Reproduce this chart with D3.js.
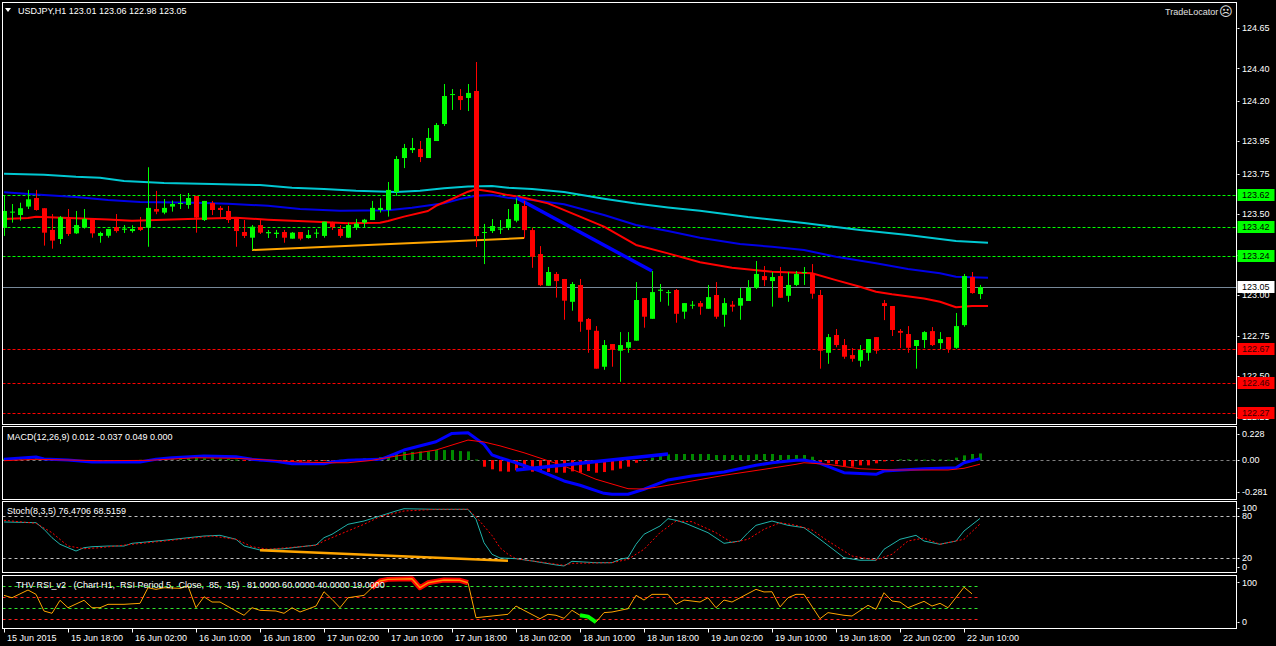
<!DOCTYPE html>
<html>
<head>
<meta charset="utf-8">
<script src="https://cdn.jsdelivr.net/npm/d3@7"></script>
<style>
  html, body { margin: 0; padding: 0; background: #000; }
  svg { display: block; }
  text { font-family: "Liberation Sans", Arial, sans-serif; font-size: 9px; fill: #fff; }
</style>
</head>
<body>
<div id="chart"></div>
<script>
// ---- price bars (USDJPY H1), one entry per bar ----
const candleOpen = [123.415,123.510,123.495,123.547,123.600,123.537,123.403,123.347,123.471,123.382,123.417,123.475,123.366,123.367,123.421,123.404,123.396,123.421,123.417,123.532,
  123.510,123.547,123.565,123.557,123.613,123.464,123.569,123.539,123.520,123.481,123.390,123.355,123.433,123.382,123.378,123.390,123.349,123.390,123.353,123.380,
  123.366,123.448,123.409,123.355,123.417,123.448,123.464,123.526,123.526,123.637,123.847,123.896,123.903,123.847,123.952,124.057,124.236,124.230,124.218,124.261,
  123.384,123.396,123.407,123.415,123.460,123.551,123.402,123.254,123.058,123.131,123.100,122.959,123.063,122.853,122.780,122.558,122.698,122.657,122.675,122.719,
  122.982,122.854,123.027,123.015,123.032,122.898,122.935,122.951,122.916,123.001,122.879,122.941,122.935,122.964,123.046,123.118,123.087,123.118,122.996,123.063,
  123.137,123.131,123.001,122.644,122.754,122.692,122.630,122.595,122.644,122.741,122.951,122.933,122.779,122.760,122.686,122.723,122.778,122.704,122.741,122.675,
  122.815,123.112,123.007];
const candleHigh = [123.613,123.563,123.571,123.650,123.650,123.537,123.501,123.489,123.532,123.520,123.532,123.475,123.392,123.409,123.501,123.433,123.432,123.483,123.790,123.644,
  123.594,123.584,123.625,123.631,123.613,123.582,123.582,123.551,123.551,123.481,123.464,123.433,123.464,123.403,123.403,123.403,123.390,123.390,123.403,123.409,
  123.454,123.454,123.433,123.448,123.471,123.471,123.582,123.598,123.699,123.859,123.934,123.971,123.952,124.032,124.063,124.304,124.273,124.273,124.304,124.440,
  123.440,123.470,123.464,123.532,123.598,123.582,123.417,123.303,123.174,123.143,123.100,123.081,123.100,122.859,122.809,122.723,122.698,122.772,122.772,123.081,
  122.982,123.149,123.069,123.032,123.038,122.951,122.964,122.964,123.063,123.081,122.982,122.964,123.044,123.093,123.211,123.180,123.143,123.174,123.143,123.149,
  123.174,123.192,123.032,122.760,122.791,122.729,122.673,122.692,122.729,122.741,122.970,122.933,122.791,122.809,122.723,122.778,122.803,122.772,122.741,122.890,
  123.131,123.143,123.063];
const candleLow = [123.366,123.448,123.460,123.532,123.522,123.306,123.287,123.316,123.366,123.378,123.411,123.355,123.324,123.355,123.386,123.384,123.386,123.396,123.299,123.500,
  123.500,123.516,123.532,123.534,123.386,123.458,123.495,123.481,123.446,123.299,123.353,123.279,123.378,123.353,123.353,123.324,123.349,123.339,123.349,123.353,
  123.355,123.403,123.355,123.353,123.403,123.417,123.464,123.510,123.485,123.614,123.785,123.878,123.822,123.847,123.952,124.045,124.144,124.144,124.137,123.297,
  123.192,123.384,123.378,123.402,123.450,123.351,123.169,123.056,123.058,122.985,122.848,122.904,122.774,122.644,122.546,122.539,122.558,122.465,122.644,122.719,
  122.799,122.854,122.959,122.935,122.830,122.854,122.916,122.879,122.916,122.854,122.805,122.898,122.848,122.964,123.038,123.056,122.929,122.984,122.959,123.056,
  123.063,122.978,122.546,122.576,122.678,122.607,122.589,122.558,122.595,122.638,122.846,122.748,122.673,122.644,122.546,122.673,122.686,122.667,122.644,122.669,
  122.805,123.009,122.976];
const candleClose = [123.520,123.516,123.537,123.592,123.526,123.386,123.337,123.481,123.378,123.433,123.471,123.382,123.384,123.409,123.396,123.411,123.409,123.403,123.539,123.516,
  123.539,123.563,123.569,123.600,123.479,123.582,123.526,123.526,123.464,123.396,123.366,123.423,123.386,123.390,123.386,123.355,123.386,123.349,123.372,123.386,
  123.454,123.420,123.366,123.433,123.442,123.466,123.539,123.539,123.650,123.841,123.909,123.909,123.853,123.971,124.051,124.230,124.242,124.205,124.249,123.365,
  123.390,123.427,123.411,123.470,123.563,123.402,123.237,123.062,123.143,123.087,122.966,123.069,122.836,122.786,122.546,122.692,122.663,122.692,122.710,122.970,
  122.867,123.019,123.034,123.019,122.885,122.951,122.941,122.929,122.988,122.867,122.951,122.929,122.982,123.046,123.131,123.093,123.112,122.984,123.063,123.131,
  123.143,123.009,122.657,122.741,122.692,122.620,122.607,122.661,122.729,122.657,122.933,122.785,122.768,122.675,122.723,122.772,122.692,122.729,122.667,122.809,
  123.118,123.013,123.050];

// moving averages, sampled as [bar, price]
const maSlow = [[0,123.750],[5,123.744],[9,123.731],[12,123.725],[15,123.705],[20,123.693],[26,123.686],[32,123.680],[36,123.664],[40,123.656],
  [44,123.645],[49,123.637],[52,123.645],[55,123.660],[58,123.671],[61,123.674],[63,123.664],[66,123.656],[70,123.637],[75,123.596],
  [79,123.566],[83,123.542],[87,123.522],[93,123.483],[100,123.446],[107,123.402],[113,123.371],[119,123.334],[123,123.324]];
const maMid = [[0,123.635],[5,123.619],[9,123.606],[13,123.588],[17,123.575],[24,123.571],[28,123.565],[33,123.552],[37,123.532],[42,123.521],
  [48,123.524],[51,123.540],[55,123.567],[57,123.594],[59,123.614],[61,123.618],[63,123.602],[66,123.588],[70,123.561],[75,123.495],
  [79,123.433],[83,123.396],[87,123.355],[92,123.316],[96,123.299],[100,123.279],[104,123.237],[109,123.197],[113,123.161],[117,123.135],
  [119,123.114],[123,123.108]];
const maFast = [[0,123.470],[3,123.477],[4,123.485],[13,123.468],[16,123.460],[19,123.464],[23,123.470],[29,123.478],[33,123.466],[39,123.454],
  [43,123.444],[47,123.447],[48,123.458],[50,123.485],[53,123.520],[54,123.552],[56,123.594],[58,123.639],[59,123.654],[61,123.639],
  [63,123.618],[65,123.602],[68,123.567],[72,123.485],[75,123.423],[79,123.310],[83,123.258],[87,123.203],[91,123.169],[96,123.145],
  [101,123.135],[104,123.093],[107,123.052],[109,123.021],[111,123.005],[115,122.980],[117,122.959],[119,122.925],[121,122.933],[123,122.933]];

// drawn objects on the price window
const trendOrange = [[31,123.279],[65,123.353]];
const trendBlue = [[64,123.603],[81,123.149]];
const levelsGreen = [123.62, 123.42, 123.24];
const levelsRed = [122.67, 122.46, 122.27];
const bidPrice = 123.05;
const priceTicks = [124.65,124.40,124.20,123.95,123.75,123.50,123.25,123.00,122.75,122.50,122.25];

// time axis: one label every 8 bars
const timeLabels = ["15 Jun 2015","15 Jun 18:00","16 Jun 02:00","16 Jun 10:00","16 Jun 18:00","17 Jun 02:00","17 Jun 10:00","17 Jun 18:00",
  "18 Jun 02:00","18 Jun 10:00","18 Jun 18:00","19 Jun 02:00","19 Jun 10:00","19 Jun 18:00","22 Jun 02:00","22 Jun 10:00"];

// MACD(12,26,9)
const macdHist = [0.012,0.015,0.018,0.020,0.020,0.016,0.010,0.005,
  0.000,-0.002,-0.003,-0.004,-0.004,-0.003,-0.002,-0.002,
  0.000,0.002,0.004,0.008,0.012,0.015,0.016,0.018,
  0.018,0.016,0.014,0.012,0.008,0.004,-0.002,-0.006,
  -0.010,-0.014,-0.016,-0.018,-0.018,-0.016,-0.014,-0.010,
  -0.006,-0.002,0.002,0.006,0.010,0.015,
  0.018,0.026,0.041,0.056,0.071,0.071,0.076,0.076,0.088,0.088,0.088,0.079,0.076,
  0.005,
  -0.059,-0.082,-0.100,
  -0.103,-0.091,-0.082,-0.103,-0.106,-0.106,-0.112,-0.112,-0.100,-0.112,-0.097,-0.112,-0.106,-0.091,-0.076,-0.059,-0.024,-0.003,
  0.021,0.035,0.050,0.053,0.053,0.053,0.053,0.053,0.044,0.044,0.044,0.044,0.044,0.050,0.053,0.053,0.044,0.044,0.044,0.044,0.029,
  -0.018,-0.029,-0.038,-0.053,-0.059,-0.047,-0.047,-0.029,-0.012,-0.003,
  0.006,0.006,0.006,0.003,0.006,0.006,0.003,
  0.021,0.041,0.053,0.058];
const macdLine = [[0,0.006],[4,0.026],[5,0.009],[8,0],[11,-0.018],[17,-0.018],[19,0.006],[21,0.020],[25,0.035],[29,0.029],
  [31,0.006],[34,-0.011],[36,-0.033],[40,-0.033],[41,-0.018],[43,-0.003],[47,0.006],[48,0.029],[50,0.088],[54,0.161],
  [56,0.235],[58,0.241],[60,0.138],[61,0.045],[62,0.020],[64,-0.024],[67,-0.097],[70,-0.185],[72,-0.223],[75,-0.294],
  [76,-0.302],[78,-0.302],[80,-0.258],[83,-0.176],[86,-0.141],[90,-0.106],[94,-0.047],[96,-0.024],[99,-0.003],[100,0],
  [102,-0.029],[105,-0.112],[109,-0.126],[110,-0.097],[115,-0.077],[119,-0.068],[120,-0.024],[122,0.012]];
const macdSignal = [[0,-0.006],[4,0.006],[8,0],[12,-0.006],[18,-0.003],[24,0.020],[29,0.015],[33,0],[37,-0.018],[41,-0.024],
  [43,-0.024],[46,-0.003],[49,0.035],[54,0.088],[58,0.176],[60,0.159],[62,0.125],[65,0.064],[70,-0.053],[74,-0.170],
  [78,-0.253],[80,-0.256],[82,-0.235],[86,-0.185],[90,-0.135],[95,-0.082],[99,-0.038],[100,-0.024],[103,-0.038],[107,-0.077],
  [111,-0.088],[118,-0.088],[120,-0.073],[122,-0.037]];
const macdTrend = [[64,-0.088],[83,0.053]];
const macdTicks = [["0.228",0.228],["0.00",0],["-0.281",-0.281]];

// Stochastic(8,3,5)
const stochMain = [[0,71.4],[4,70.4],[5,60.9],[6,48.8],[7,39.3],[9,29.6],[10,34.4],[11,35.8],[13,36.8],[15,36.8],
  [16,40.7],[20,45.0],[25,51.2],[27,52.2],[29,46.5],[30,36.8],[32,31.1],[35,32.9],[39,38.3],[40,48.8],
  [41,53.7],[43,68.1],[45,72.8],[47,80.0],[49,87.2],[50,90.5],[54,89.6],[58,89.6],[59,75.3],[60,41.6],
  [61,24.9],[62,19.6],[64,18.6],[66,15.3],[69,9.6],[70,8.1],[71,14.8],[74,12.8],[76,12.8],[77,17.7],
  [78,20.0],[79,39.3],[80,53.7],[82,65.6],[83,76.1],[84,73.8],[85,70.4],[88,56.0],[90,40.7],[92,44.0],
  [93,56.0],[94,66.6],[96,72.8],[98,66.6],[100,63.2],[102,46.5],[105,20.0],[107,16.3],[109,16.3],[110,32.1],
  [112,46.5],[114,52.2],[115,44.0],[117,39.3],[119,44.0],[120,58.4],[122,76.5]];
const stochSignal = [[0,73.8],[4,69.5],[6,56.0],[8,36.8],[10,32.9],[12,34.4],[16,39.3],[20,44.0],[26,51.2],[29,46.5],
  [31,35.8],[33,32.1],[39,37.8],[40,44.0],[42,53.7],[45,68.1],[47,79.0],[50,87.2],[54,89.6],[58,89.6],
  [59,79.0],[61,52.0],[62,34.4],[63,24.9],[64,18.6],[70,9.1],[71,11.9],[76,12.8],[78,17.7],[80,32.1],
  [82,56.0],[84,72.8],[86,71.8],[89,56.0],[91,41.6],[93,46.5],[95,60.9],[97,70.4],[99,66.6],[101,59.9],
  [103,44.0],[106,22.4],[109,16.7],[111,24.9],[113,44.0],[115,48.3],[117,39.3],[120,46.5],[122,68.5]];
const stochTrend = [[32,30.6],[63,15.7]];
const stochLevels = [80, 20];
const stochTicks = [["100",100,6],["80",80,0],["20",20,0],["0",0,-5]];

// THV RSI_v2
const rsiLine = [[0,63.7],[1,59.1],[3,73.9],[4,65.6],[5,33.7],[6,29.3],[7,54.2],[8,40.0],[10,54.2],[11,40.0],
  [12,40.0],[13,46.5],[15,46.5],[17,48.4],[18,78.3],[19,75.2],[20,78.3],[22,77.1],[23,81.5],[24,40.0],
  [25,61.0],[26,50.9],[27,50.9],[29,33.7],[30,25.5],[31,40.0],[32,35.0],[34,33.7],[35,29.3],[36,40.0],
  [37,31.8],[39,43.2],[40,70.6],[41,56.1],[42,40.0],[43,59.1],[45,63.7],[46,78.3],[47,91.1],[48,94.3],
  [51,95.5],[52,78.3],[53,87.8],[55,93.0],[57,92.4],[58,87.8],[59,20.9],[61,24.1],[63,27.4],[64,43.2],
  [65,35.0],[67,19.0],[68,27.4],[69,25.5],[70,19.7],[71,35.0],[72,25.5],[73,22.9],[74,12.4],[75,30.6],
  [76,31.8],[78,38.1],[79,63.7],[80,54.7],[81,65.6],[83,65.6],[84,46.5],[85,54.7],[87,50.9],[88,59.1],
  [89,40.0],[90,54.7],[91,50.9],[94,75.2],[95,70.2],[96,70.6],[97,41.5],[98,59.1],[99,65.6],[100,65.6],
  [102,19.0],[103,30.6],[105,25.5],[106,24.1],[108,44.6],[109,37.0],[110,68.7],[111,52.8],[112,50.9],[113,40.0],
  [115,52.2],[116,43.2],[117,48.4],[118,40.0],[120,79.3],[121,66.6]];
const rsiHot = [[46,58]];
const rsiCold = [[72,74]];
const rsiLevels = [[81,"#2ee62e"],[60,"#ff2020"],[40,"#2ee62e"],[19,"#ff2020"]];
const rsiTicks = [["100",100,6],["0",0,-7]];

// ---- layout ----
const W = 1276, H = 646;
const plotLeft = 2.5, plotRight = 1236.5;
const panels = {
  main:  { top: 2.5,   bottom: 424.5 },
  macd:  { top: 426.5, bottom: 499.5 },
  stoch: { top: 501.5, bottom: 572.5 },
  rsi:   { top: 575.5, bottom: 628.5 },
};
const lastBar = candleClose.length - 1;

const x = d3.scaleLinear().domain([0, lastBar]).range([4, 4 + 8 * lastBar]);
const yMain = d3.scaleLinear().domain([122.2, 124.81]).range([424.7, 2.1]);
const yMacd = d3.scaleLinear().domain([-0.344, 0.294]).range([499, 426.7]);
const yStoch = d3.scaleLinear().domain([0, 100]).range([571.6, 502.1]);
const yRsi = d3.scaleLinear().domain([0, 100]).range([628.6, 576.4]);

const svg = d3.select("#chart").append("svg").attr("width", W).attr("height", H);
svg.append("rect").attr("width", W).attr("height", H).attr("fill", "#000");

const defs = svg.append("defs");
const layer = {};
Object.entries(panels).forEach(([name, p]) => {
  defs.append("clipPath").attr("id", "clip-" + name)
    .append("rect")
    .attr("x", plotLeft + 0.5).attr("y", p.top + 0.5)
    .attr("width", plotRight - plotLeft - 1).attr("height", p.bottom - p.top - 1);
  layer[name] = svg.append("g").attr("clip-path", `url(#clip-${name})`);
});

function hLine(g, yv, color, dash, x2) {
  g.append("line")
    .attr("x1", plotLeft).attr("x2", x2 === undefined ? plotRight : x2)
    .attr("y1", Math.round(yv) + 0.5).attr("y2", Math.round(yv) + 0.5)
    .attr("stroke", color).attr("stroke-width", 1)
    .attr("stroke-dasharray", dash);
}

function pathOf(g, data, yScale, color, width, dash) {
  const line = d3.line().x(d => x(d[0])).y(d => yScale(d[1]));
  g.append("path").datum(data)
    .attr("d", line).attr("fill", "none")
    .attr("stroke", color).attr("stroke-width", width)
    .attr("stroke-linejoin", "round")
    .attr("stroke-dasharray", dash || null);
}

// ---- main price window ----
const gm = layer.main;
levelsGreen.forEach(v => hLine(gm, yMain(v), "#00ff00", "3,2"));
levelsRed.forEach(v => hLine(gm, yMain(v), "#ff0000", "3,2"));
hLine(gm, yMain(bidPrice), "#778899", null);

pathOf(gm, maSlow, yMain, "#00c8d2", 2);
pathOf(gm, maMid, yMain, "#0000e6", 2);
pathOf(gm, maFast, yMain, "#ff0000", 2);
pathOf(gm, trendOrange, yMain, "#ffa500", 2);
pathOf(gm, trendBlue, yMain, "#0000ff", 3.5);

const bars = d3.range(candleClose.length);
const cg = gm.append("g");
bars.forEach(i => {
  const up = candleClose[i] >= candleOpen[i];
  const col = up ? "#00ff00" : "#ff0000";
  const cx = x(i);
  cg.append("line")
    .attr("x1", cx + 0.5).attr("x2", cx + 0.5)
    .attr("y1", yMain(candleHigh[i])).attr("y2", yMain(candleLow[i]))
    .attr("stroke", col).attr("stroke-width", 1);
  const top = yMain(Math.max(candleOpen[i], candleClose[i]));
  const bot = yMain(Math.min(candleOpen[i], candleClose[i]));
  cg.append("rect")
    .attr("x", cx - 2).attr("width", 5)
    .attr("y", top).attr("height", Math.max(1, bot - top))
    .attr("fill", col);
});

// ---- MACD window ----
const gd = layer.macd;
hLine(gd, yMacd(0), "#808080", "3,3");
gd.selectAll("rect.hist").data(macdHist).join("rect")
  .attr("class", "hist")
  .attr("x", (d, i) => x(i) - 1).attr("width", 3)
  .attr("y", d => Math.min(yMacd(d), yMacd(0)))
  .attr("height", d => Math.max(1, Math.abs(yMacd(d) - yMacd(0))))
  .attr("fill", d => d >= 0 ? "#008a00" : "#ff0000");
pathOf(gd, macdLine, yMacd, "#0000ff", 3);
pathOf(gd, macdSignal, yMacd, "#ff0000", 1);
pathOf(gd, macdTrend, yMacd, "#0000ff", 3.5);

// ---- Stochastic window ----
const gs = layer.stoch;
stochLevels.forEach(v => hLine(gs, yStoch(v), "#c0c0c0", "3,3"));
pathOf(gs, stochMain, yStoch, "#20b2aa", 1);
pathOf(gs, stochSignal, yStoch, "#ff0000", 1, "2,2");
pathOf(gs, stochTrend, yStoch, "#ffa500", 2.5);

// ---- RSI window ----
const gr = layer.rsi;
rsiLevels.forEach(([v, c]) => hLine(gr, yRsi(v), c, "3,3", x(lastBar)));
pathOf(gr, rsiLine, yRsi, "#ffa500", 1);
rsiHot.forEach(([a, b]) => {
  const seg = rsiLine.filter(d => d[0] >= a && d[0] <= b);
  pathOf(gr, seg, yRsi, "#ff0000", 5);
  pathOf(gr, seg, yRsi, "#ff8c00", 1.5);
});
rsiCold.forEach(([a, b]) => {
  const seg = rsiLine.filter(d => d[0] >= a && d[0] <= b);
  pathOf(gr, seg, yRsi, "#00ff00", 4);
});

// ---- borders ----
Object.values(panels).forEach(p => {
  svg.append("rect")
    .attr("x", plotLeft).attr("y", p.top)
    .attr("width", plotRight - plotLeft).attr("height", p.bottom - p.top)
    .attr("fill", "none").attr("stroke", "#fff").attr("stroke-width", 1);
});

// ---- right axes ----
const axisX = plotRight + 5.5;
function rightLabel(label, yv) {
  svg.append("line").attr("x1", plotRight + 1).attr("x2", plotRight + 3)
    .attr("y1", Math.round(yv) + 0.5).attr("y2", Math.round(yv) + 0.5)
    .attr("stroke", "#fff");
  svg.append("text").attr("x", axisX).attr("y", yv).attr("dy", "0.35em").text(label);
}
priceTicks.forEach(v => rightLabel(v.toFixed(2), yMain(v)));

function priceBox(v, fill, ink) {
  const yv = Math.round(yMain(v));
  svg.append("rect").attr("x", plotRight + 1).attr("y", yv - 6)
    .attr("width", 37).attr("height", 12).attr("fill", fill);
  svg.append("text").attr("x", axisX).attr("y", yv).attr("dy", "0.35em")
    .style("fill", ink).text(v.toFixed(2));
}
levelsGreen.forEach(v => priceBox(v, "#00ff00", "#000"));
levelsRed.forEach(v => priceBox(v, "#ff0000", "#3a0000"));
priceBox(bidPrice, "#ffffff", "#000");

macdTicks.forEach(([t, v]) => rightLabel(t, yMacd(v)));
stochTicks.forEach(([t, v, off]) => rightLabel(t, yStoch(v) + off));
rsiTicks.forEach(([t, v, off]) => rightLabel(t, yRsi(v) + off));

// ---- time axis ----
timeLabels.forEach((t, k) => {
  const xi = x(k * 8);
  svg.append("line").attr("x1", xi + 0.5).attr("x2", xi + 0.5)
    .attr("y1", panels.rsi.bottom).attr("y2", panels.rsi.bottom + 4)
    .attr("stroke", "#fff");
  svg.append("text").attr("x", xi + 3).attr("y", 641).text(t);
});

// ---- window captions ----
svg.append("path").attr("d", "M5,8 L11,8 L8,12 Z").attr("fill", "#fff");
svg.append("text").attr("x", 18).attr("y", 14).text("USDJPY,H1  123.01 123.06 122.98 123.05");
svg.append("text").attr("x", 7).attr("y", 440).text("MACD(12,26,9) 0.012 -0.037 0.049 0.000");
svg.append("text").attr("x", 7).attr("y", 514).text("Stoch(8,3,5) 76.4706 68.5159");
svg.append("text").attr("x", 16).attr("y", 588).attr("xml:space", "preserve")
  .text("THV RSI_v2   (Chart H1,  RSI Period 5,  Close,  85,  15)   81.0000 60.0000 40.0000 19.0000");
svg.append("text").attr("x", 1165).attr("y", 15).style("fill", "#e0e0e0").text("TradeLocator");
svg.append("text").attr("x", 1219).attr("y", 16)
  .style("font-family", "'DejaVu Sans'").style("font-size", "13px").style("fill", "#e0e0e0")
  .text("\u2639");
</script>
</body>
</html>
